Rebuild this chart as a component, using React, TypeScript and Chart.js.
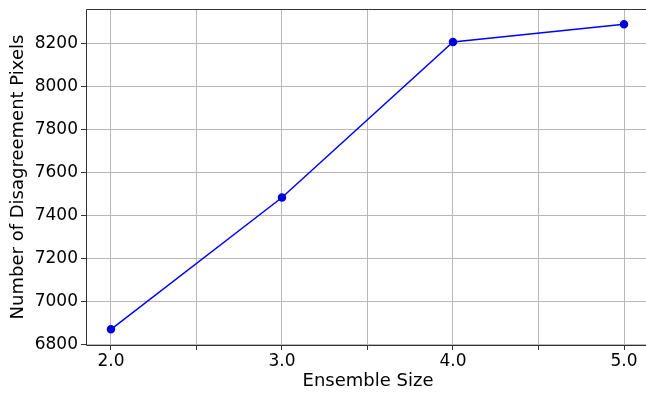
import React, { useEffect, useRef } from "react";
import { Chart, registerables } from "chart.js";

Chart.register(...registerables);

const ensembleSizes = [2.0, 3.0, 4.0, 5.0];
const disagreementPixels = [6870, 7484, 8208, 8291];
const xTickValues = [2.0, 2.5, 3.0, 3.5, 4.0, 4.5, 5.0];
const yTickValues = [6800, 7000, 7200, 7400, 7600, 7800, 8000, 8200];
const xLabel = "Ensemble Size";
const yLabel = "Number of Disagreement Pixels";

const FONT = "'DejaVu Sans', sans-serif";
const GRID = "#b8b8b8";

const boxPlugin = {
  id: "boxPlugin",
  afterDraw(chart: any) {
    const { ctx, chartArea } = chart;
    const l = Math.round(chartArea.left) + 0.5;
    const t = Math.round(chartArea.top) + 0.5;
    const b = Math.round(chartArea.bottom) + 0.5;
    const r = Math.round(chartArea.right) + 0.5;
    ctx.save();
    ctx.strokeStyle = "#333";
    ctx.lineWidth = 1;
    ctx.beginPath();
    ctx.moveTo(r, t);
    ctx.lineTo(l, t);
    ctx.lineTo(l, b);
    ctx.lineTo(r, b);
    ctx.stroke();
    ctx.restore();
  },
};

const zeroPad = (s: any) => {
  s.paddingLeft = 0;
  s.paddingRight = 0;
  s.paddingTop = 0;
  s.paddingBottom = 0;
};

export default function App() {
  const ref = useRef<HTMLCanvasElement | null>(null);

  useEffect(() => {
    if (!ref.current) return;
    const chart = new Chart(ref.current, {
      type: "line",
      data: {
        datasets: [
          {
            data: ensembleSizes.map((x, i) => ({ x, y: disagreementPixels[i] })),
            borderColor: "#0000ff",
            backgroundColor: "#0000dd",
            pointBackgroundColor: "#0000dd",
            pointBorderColor: "#0000dd",
            borderWidth: 1.5,
            pointRadius: 3.5,
            tension: 0,
          },
        ],
      },
      options: {
        animation: false,
        responsive: false,
        maintainAspectRatio: false,
        layout: { autoPadding: false, padding: { left: 0, top: 9, right: 10, bottom: 0 } },
        plugins: { legend: { display: false }, tooltip: { enabled: false } },
        scales: {
          x: {
            type: "linear",
            min: 1.854,
            max: 5.152,
            afterBuildTicks: (s: any) => {
              s.ticks = xTickValues.map((v) => ({ value: v }));
            },
            afterFit: (s: any) => {
              s.height = 393 - 345;
              zeroPad(s);
            },
            grid: {
              color: (c: any) => (c.tick && xTickValues.includes(c.tick.value) ? GRID : "rgba(0,0,0,0)"),
              tickColor: (c: any) => (c.tick && xTickValues.includes(c.tick.value) ? "#333" : "rgba(0,0,0,0)"),
              lineWidth: 1,
              tickLength: 5,
              drawTicks: true,
            },
            border: { display: false },
            ticks: {
              autoSkip: false,
              maxRotation: 0,
              padding: 1,
              color: "#000",
              font: { family: FONT, size: 17 },
              callback: (v: any) => (Number.isInteger(Number(v)) ? Number(v).toFixed(1) : ""),
            },
            title: {
              display: true,
              text: xLabel,
              color: "#000",
              font: { family: FONT, size: 18 },
              padding: { top: 0, bottom: 1 },
            },
          },
          y: {
            type: "linear",
            min: 6797,
            max: 8362,
            afterBuildTicks: (s: any) => {
              s.ticks = yTickValues.map((v) => ({ value: v }));
            },
            afterFit: (s: any) => {
              s.width = 86;
              zeroPad(s);
            },
            grid: { color: GRID, lineWidth: 1, tickLength: 5, tickColor: "#333" },
            border: { display: false },
            ticks: {
              padding: 3,
              color: "#000",
              font: { family: FONT, size: 17 },
              callback: (v: any) => String(v),
            },
            title: {
              display: true,
              text: yLabel,
              color: "#000",
              font: { family: FONT, size: 18 },
              padding: { top: 8, bottom: 0 },
            },
          },
        },
      },
      plugins: [boxPlugin],
    } as any);
    return () => chart.destroy();
  }, []);

  return (
    <div
      style={{
        position: "fixed",
        left: 0,
        top: 0,
        width: 646,
        height: 393,
        overflow: "hidden",
        background: "#fff",
      }}
    >
      <canvas ref={ref} width={660} height={393} style={{ width: 660, height: 393, display: "block" }} />
    </div>
  );
}
